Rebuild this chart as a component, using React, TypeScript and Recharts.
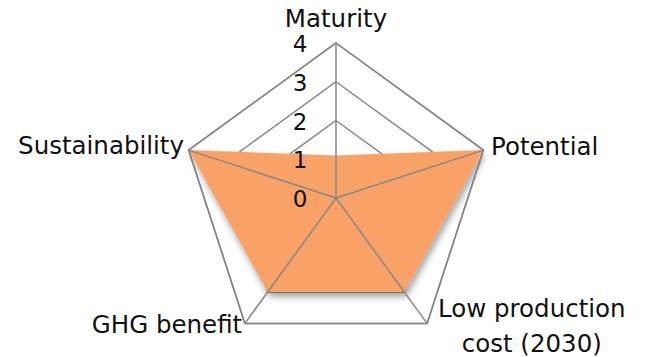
import React from "react";
import {
    RadarChart,
    Radar,
    PolarGrid,
    PolarAngleAxis,
    PolarRadiusAxis,
} from "recharts";

const criteria = ["Maturity", "Potential", "Low production cost (2030)", "GHG benefit", "Sustainability"];
const scores = [1.1, 4, 3, 3, 4];
const radiusTicks = [0, 1, 2, 3, 4];

const data = criteria.map((c, i) => ({ criterion: c, score: scores[i] }));

const FONT = "'DejaVu Sans', sans-serif";
const GRID = "#878787";

// label placement around the pentagon, hand tuned to the reference
const AngleTick = (props: any) => {
    const { x, y, payload, index } = props;
    const v = String(payload.value);
    const common = { fill: "#111", fontSize: 24.5, fontFamily: FONT };
    if (index === 0) {
        return <text x={x} y={y - 17} textAnchor="middle" dominantBaseline="central" {...common}>{v}</text>;
    }
    if (index === 1) {
        return <text x={x} y={y - 1} textAnchor="start" dominantBaseline="central" {...common}>{v}</text>;
    }
    if (index === 2) {
        return (
            <text x={x + 100} y={y - 21} textAnchor="middle" {...common}>
                <tspan x={x + 100} dy={0} dominantBaseline="central">Low production</tspan>
                <tspan x={x + 100} dy={35} dominantBaseline="central">cost (2030)</tspan>
            </text>
        );
    }
    if (index === 3) {
        return <text x={x + 2} y={y - 5} textAnchor="end" dominantBaseline="central" {...common}>{v}</text>;
    }
    return <text x={x + 3} y={y - 2} textAnchor="end" dominantBaseline="central" {...common}>{v}</text>;
};

const RadiusTick = (props: any) => {
    const { x, y, payload } = props;
    return (
        <text x={x - 36} y={y + 1} textAnchor="middle" dominantBaseline="central"
            fill="#111" fontSize={23} fontFamily={FONT}>
            {payload.value}
        </text>
    );
};

export default function App() {
    return (
        <div style={{ position: "absolute", left: 0, top: 0, width: 646, height: 357, background: "#fff" }}>
            <RadarChart width={646} height={357} data={data} cx={336} cy={198} outerRadius={155}
                margin={{ top: 0, right: 0, bottom: 0, left: 0 }}>
                <defs>
                    <filter id="shadow" x="-20%" y="-20%" width="140%" height="140%">
                        <feDropShadow dx={2} dy={5} stdDeviation={3} floodColor="#000" floodOpacity={0.35} />
                    </filter>
                </defs>
                <PolarGrid gridType="polygon" radialLines={false} stroke={GRID} strokeWidth={1.5} strokeOpacity={1} />
                <PolarAngleAxis dataKey="criterion" tick={<AngleTick />} tickLine={false} axisLine={false} />
                <PolarRadiusAxis angle={90} domain={[0, 4]} ticks={radiusTicks as any} tickCount={5}
                    axisLine={false} tickLine={false} tick={<RadiusTick />} />
                <Radar dataKey="score" fill="#F9A267" fillOpacity={1} stroke="none"
                    filter="url(#shadow)" isAnimationActive={false} />
                <PolarGrid {...({ zIndex: 1000 } as any)} gridType="polygon" polarRadius={[155]}
                    stroke={GRID} strokeWidth={1.5} strokeOpacity={1} />
            </RadarChart>
        </div>
    );
}
